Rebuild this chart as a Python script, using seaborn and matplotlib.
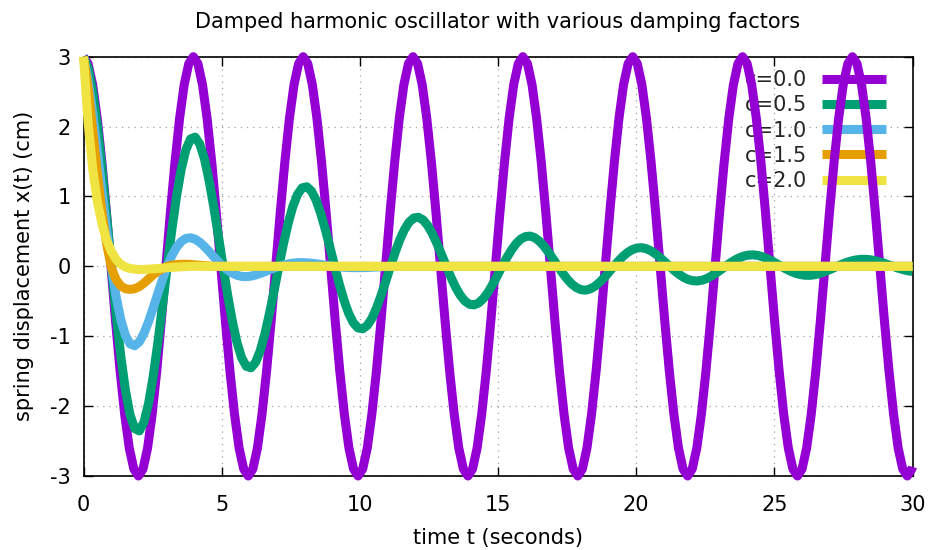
import numpy as np
import pandas as pd
import matplotlib
matplotlib.use("Agg")
import matplotlib.pyplot as plt
from matplotlib.lines import Line2D
import seaborn as sns

# ---------------- data ----------------
labels = ["c=0.0", "c=0.5", "c=1.0", "c=1.5", "c=2.0"]
colors = ["#9400d3", "#009e73", "#56b4e9", "#e69f00", "#f0e442"]

x_ticks = [0, 5, 10, 15, 20, 25, 30]
y_ticks = [-3, -2, -1, 0, 1, 2, 3]

# c = 0.0 (undamped)
t_c00 = [
    0.000, 0.166, 0.331, 0.497, 0.663, 0.828, 0.994, 1.159, 1.325, 1.491, 1.656, 1.822,
    1.988, 2.153, 2.319, 2.484, 2.650, 2.816, 2.981, 3.147, 3.313, 3.478, 3.644, 3.809,
    3.975, 4.141, 4.306, 4.472, 4.638, 4.803, 4.969, 5.134, 5.300, 5.466, 5.631, 5.797,
    5.963, 6.128, 6.294, 6.459, 6.625, 6.791, 6.956, 7.122, 7.288, 7.453, 7.619, 7.784,
    7.950, 8.116, 8.281, 8.447, 8.613, 8.778, 8.944, 9.109, 9.275, 9.441, 9.606, 9.772,
    9.938, 10.103, 10.269, 10.434, 10.600, 10.766, 10.931, 11.097, 11.263, 11.428, 11.594, 11.759,
    11.925, 12.091, 12.256, 12.422, 12.588, 12.753, 12.919, 13.084, 13.250, 13.416, 13.581, 13.747,
    13.913, 14.078, 14.244, 14.409, 14.575, 14.741, 14.906, 15.072, 15.238, 15.403, 15.569, 15.734,
    15.900, 16.066, 16.231, 16.397, 16.563, 16.728, 16.894, 17.059, 17.225, 17.391, 17.556, 17.722,
    17.888, 18.053, 18.219, 18.384, 18.550, 18.716, 18.881, 19.047, 19.213, 19.378, 19.544, 19.709,
    19.875, 20.041, 20.206, 20.372, 20.538, 20.703, 20.869, 21.034, 21.200, 21.366, 21.531, 21.697,
    21.863, 22.028, 22.194, 22.359, 22.525, 22.691, 22.856, 23.022, 23.188, 23.353, 23.519, 23.684,
    23.850, 24.016, 24.181, 24.347, 24.513, 24.678, 24.844, 25.009, 25.175, 25.341, 25.506, 25.672,
    25.838, 26.003, 26.169, 26.334, 26.500, 26.666, 26.831, 26.997, 27.163, 27.328, 27.494, 27.659,
    27.825, 27.991, 28.156, 28.322, 28.488, 28.653, 28.819, 28.984, 29.150, 29.316, 29.481, 29.647,
    29.813, 29.978, 30.000,
]
x_c00 = [
    3.00, 2.90, 2.60, 2.12, 1.50, 0.78, 0.00, -0.78, -1.50, -2.12, -2.60, -2.90,
    -3.00, -2.90, -2.60, -2.12, -1.50, -0.78, 0.00, 0.78, 1.50, 2.12, 2.60, 2.90,
    3.00, 2.90, 2.60, 2.12, 1.50, 0.78, 0.00, -0.78, -1.50, -2.12, -2.60, -2.90,
    -3.00, -2.90, -2.60, -2.12, -1.50, -0.78, 0.00, 0.78, 1.50, 2.12, 2.60, 2.90,
    3.00, 2.90, 2.60, 2.12, 1.50, 0.78, 0.00, -0.78, -1.50, -2.12, -2.60, -2.90,
    -3.00, -2.90, -2.60, -2.12, -1.50, -0.78, 0.00, 0.78, 1.50, 2.12, 2.60, 2.90,
    3.00, 2.90, 2.60, 2.12, 1.50, 0.78, 0.00, -0.78, -1.50, -2.12, -2.60, -2.90,
    -3.00, -2.90, -2.60, -2.12, -1.50, -0.78, 0.00, 0.78, 1.50, 2.12, 2.60, 2.90,
    3.00, 2.90, 2.60, 2.12, 1.50, 0.78, 0.00, -0.78, -1.50, -2.12, -2.60, -2.90,
    -3.00, -2.90, -2.60, -2.12, -1.50, -0.78, 0.00, 0.78, 1.50, 2.12, 2.60, 2.90,
    3.00, 2.90, 2.60, 2.12, 1.50, 0.78, 0.00, -0.78, -1.50, -2.12, -2.60, -2.90,
    -3.00, -2.90, -2.60, -2.12, -1.50, -0.78, 0.00, 0.78, 1.50, 2.12, 2.60, 2.90,
    3.00, 2.90, 2.60, 2.12, 1.50, 0.78, 0.00, -0.78, -1.50, -2.12, -2.60, -2.90,
    -3.00, -2.90, -2.60, -2.12, -1.50, -0.78, 0.00, 0.78, 1.50, 2.12, 2.60, 2.90,
    3.00, 2.90, 2.60, 2.12, 1.50, 0.78, 0.00, -0.78, -1.50, -2.12, -2.60, -2.90,
    -3.00, -2.90, -2.87,
]

# time samples used for the damped curves
t_damped = [
    0.000, 0.168, 0.337, 0.505, 0.673, 0.842, 1.010, 1.178, 1.347, 1.515, 1.683, 1.852,
    2.020, 2.188, 2.357, 2.525, 2.693, 2.862, 3.030, 3.198, 3.367, 3.535, 3.703, 3.872,
    4.040, 4.208, 4.377, 4.545, 4.713, 4.882, 5.050, 5.218, 5.387, 5.555, 5.723, 5.892,
    6.060, 6.228, 6.397, 6.565, 6.733, 6.902, 7.070, 7.238, 7.407, 7.575, 7.743, 7.912,
    8.080, 8.248, 8.417, 8.585, 8.753, 8.922, 9.090, 9.258, 9.427, 9.595, 9.763, 9.932,
    10.100, 10.268, 10.437, 10.605, 10.773, 10.942, 11.110, 11.278, 11.447, 11.615, 11.783, 11.952,
    12.120, 12.288, 12.457, 12.625, 12.793, 12.962, 13.130, 13.298, 13.467, 13.635, 13.803, 13.972,
    14.140, 14.308, 14.477, 14.645, 14.813, 14.982, 15.150, 15.318, 15.487, 15.655, 15.823, 15.992,
    16.160, 16.328, 16.497, 16.665, 16.833, 17.002, 17.170, 17.338, 17.507, 17.675, 17.843, 18.012,
    18.180, 18.348, 18.517, 18.685, 18.853, 19.022, 19.190, 19.358, 19.527, 19.695, 19.863, 20.032,
    20.200, 20.368, 20.537, 20.705, 20.873, 21.042, 21.210, 21.378, 21.547, 21.715, 21.883, 22.052,
    22.220, 22.388, 22.557, 22.725, 22.893, 23.062, 23.230, 23.398, 23.567, 23.735, 23.903, 24.072,
    24.240, 24.408, 24.577, 24.745, 24.913, 25.082, 25.250, 25.418, 25.587, 25.755, 25.923, 26.092,
    26.260, 26.428, 26.597, 26.765, 26.933, 27.102, 27.270, 27.438, 27.607, 27.775, 27.943, 28.112,
    28.280, 28.448, 28.617, 28.785, 28.953, 29.122, 29.290, 29.458, 29.627, 29.795, 29.963, 30.000,
]
x_c05 = [
    3.000, 2.840, 2.495, 1.997, 1.384, 0.702, 0.000, -0.674, -1.277, -1.769, -2.124, -2.321,
    -2.355, -2.229, -1.959, -1.567, -1.086, -0.551, 0.000, 0.529, 1.002, 1.389, 1.667, 1.822,
    1.849, 1.750, 1.538, 1.230, 0.853, 0.433, 0.000, -0.415, -0.787, -1.090, -1.309, -1.430,
    -1.451, -1.374, -1.207, -0.966, -0.669, -0.340, 0.000, 0.326, 0.617, 0.856, 1.027, 1.123,
    1.139, 1.078, 0.948, 0.758, 0.525, 0.267, 0.000, -0.256, -0.485, -0.672, -0.806, -0.881,
    -0.894, -0.847, -0.744, -0.595, -0.412, -0.209, 0.000, 0.201, 0.381, 0.527, 0.633, 0.692,
    0.702, 0.665, 0.584, 0.467, 0.324, 0.164, 0.000, -0.158, -0.299, -0.414, -0.497, -0.543,
    -0.551, -0.522, -0.458, -0.367, -0.254, -0.129, 0.000, 0.124, 0.234, 0.325, 0.390, 0.426,
    0.433, 0.410, 0.360, 0.288, 0.200, 0.101, 0.000, -0.097, -0.184, -0.255, -0.306, -0.335,
    -0.340, -0.321, -0.282, -0.226, -0.157, -0.079, 0.000, 0.076, 0.145, 0.200, 0.240, 0.263,
    0.267, 0.252, 0.222, 0.177, 0.123, 0.062, 0.000, -0.060, -0.113, -0.157, -0.189, -0.206,
    -0.209, -0.198, -0.174, -0.139, -0.097, -0.049, 0.000, 0.047, 0.089, 0.123, 0.148, 0.162,
    0.164, 0.156, 0.137, 0.109, 0.076, 0.038, 0.000, -0.037, -0.070, -0.097, -0.116, -0.127,
    -0.129, -0.122, -0.107, -0.086, -0.060, -0.030, 0.000, 0.029, 0.055, 0.076, 0.091, 0.100,
    0.101, 0.096, 0.084, 0.067, 0.047, 0.024, 0.000, -0.023, -0.043, -0.060, -0.072, -0.074,
]
x_c10 = [
    3.000, 2.661, 2.191, 1.643, 1.067, 0.507, 0.000, -0.428, -0.759, -0.986, -1.109, -1.136,
    -1.080, -0.958, -0.789, -0.592, -0.384, -0.183, 0.000, 0.154, 0.273, 0.355, 0.399, 0.409,
    0.389, 0.345, 0.284, 0.213, 0.138, 0.066, 0.000, -0.055, -0.098, -0.128, -0.144, -0.147,
    -0.140, -0.124, -0.102, -0.077, -0.050, -0.024, 0.000, 0.020, 0.035, 0.046, 0.052, 0.053,
    0.050, 0.045, 0.037, 0.028, 0.018, 0.009, 0.000, -0.007, -0.013, -0.017, -0.019, -0.019,
    -0.018, -0.016, -0.013, -0.010, -0.006, -0.003, 0.000,
]
x_c15 = [
    3.000, 2.550, 1.930, 1.320, 0.760, 0.310, -0.020, -0.190, -0.280, -0.320, -0.330, -0.320,
    -0.290, -0.240, -0.180, -0.120, -0.070, -0.030, 0.000, 0.015, 0.025, 0.030, 0.030, 0.028,
    0.020, 0.015, 0.010, 0.005, 0.000,
]
x_c20 = [
    3.000, 2.050, 1.380, 0.920, 0.600, 0.370, 0.210, 0.100, 0.030, -0.010, -0.030, -0.040,
    -0.045, -0.045, -0.040, -0.035, -0.030, -0.025, -0.020, -0.015, -0.010, -0.006, -0.003, 0.000,
]
t_end = 30.0

# ---------------- table for seaborn ----------------
series = [
    (labels[0], t_c00, x_c00),
    (labels[1], t_damped, x_c05),
    (labels[2], t_damped[:len(x_c10)] + [t_end], x_c10 + [0.0]),
    (labels[3], t_damped[:len(x_c15)] + [t_end], x_c15 + [0.0]),
    (labels[4], t_damped[:len(x_c20)] + [t_end], x_c20 + [0.0]),
]
frames = []
for name, tt, xx in series:
    frames.append(pd.DataFrame({"t": tt, "x": xx, "damping": name}))
df = pd.concat(frames, ignore_index=True)

# ---------------- styling ----------------
sns.set_theme(style="white")
plt.rcParams["font.family"] = ["DejaVu Sans"]
plt.rcParams["axes.unicode_minus"] = False

FS = 15
fig = plt.figure(figsize=(9.32, 5.5), dpi=100)
ax = fig.add_axes([83.5 / 932, 1 - 476 / 550, 829 / 932, 419.3 / 550])

LW = 6.5
sns.lineplot(data=df, x="t", y="x", hue="damping", hue_order=labels,
             palette=colors, linewidth=LW, sort=False, estimator=None,
             legend=False, ax=ax)
for i, line in enumerate(ax.lines):
    line.set_clip_on(False)
    line.set_solid_joinstyle("round")
    line.set_solid_capstyle("butt")
    line.set_zorder(3 + i)

ax.set_xlim(0, 30)
ax.set_ylim(-3, 3)
ax.set_xticks(x_ticks)
ax.set_yticks(y_ticks)
ax.set_xticklabels([str(v) for v in x_ticks])
ax.set_yticklabels([str(v) for v in y_ticks])

ax.set_facecolor("white")
for sp in ax.spines.values():
    sp.set_visible(True)
    sp.set_color("black")
    sp.set_linewidth(1.2)
    sp.set_zorder(2.5)

ax.tick_params(axis="both", which="major", direction="in", length=6.5, width=1.0,
               color="black", labelsize=FS, labelcolor="black",
               top=True, right=True, bottom=True, left=True)
ax.tick_params(axis="x", pad=14)
ax.tick_params(axis="y", pad=9)

ax.grid(True, which="major", linestyle=(0, (1, 4)), color="#a0a0a0", linewidth=0.9)
ax.set_axisbelow(True)

ax.set_title("Damped harmonic oscillator with various damping factors",
             fontsize=FS, color="black", pad=21)
ax.set_xlabel("time t (seconds)", fontsize=FS, color="black", labelpad=9)
ax.set_ylabel("spring displacement x(t) (cm)", fontsize=FS, color="black", labelpad=12)

handles = [Line2D([0], [0], color=c, lw=LW, solid_capstyle="butt") for c in colors]
leg = ax.legend(handles, labels, loc="upper right", bbox_to_anchor=(0.968, 0.968),
                frameon=False, markerfirst=False, fontsize=FS, handlelength=3.07,
                handletextpad=0.72, labelspacing=0.25, borderaxespad=0, borderpad=0)
leg.set_zorder(2.8)

fig.savefig("out.png", dpi=100)
